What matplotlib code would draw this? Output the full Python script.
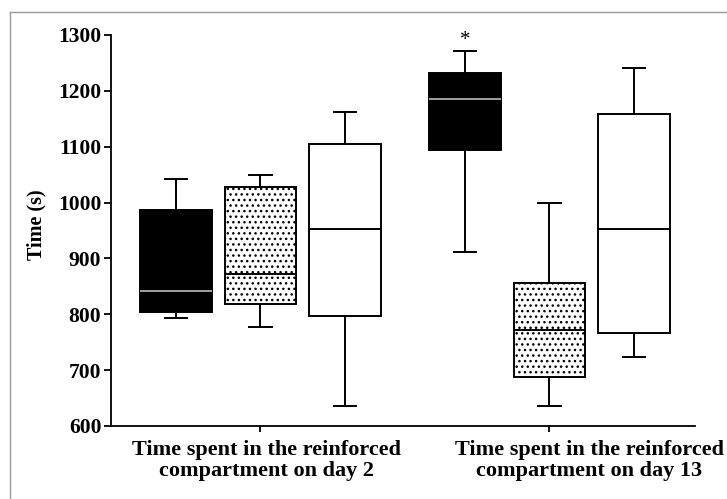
import matplotlib
matplotlib.use("Agg")
import matplotlib.pyplot as plt
from matplotlib.lines import Line2D
from matplotlib.transforms import ScaledTranslation

# ---- data ----
groups = ["Time spent in the reinforced\ncompartment on day 2",
          "Time spent in the reinforced\ncompartment on day 13"]
# box stats per series: [whisker low, q1, median, q3, whisker high]
day2_black  = [794, 804, 842, 986, 1042]
day2_dotted = [778, 818, 872, 1028, 1049]
day2_white  = [635, 797, 953, 1104, 1163]
day13_black  = [912, 1095, 1185, 1232, 1271]
day13_dotted = [635, 688, 772, 856, 999]
day13_white  = [723, 767, 953, 1158, 1241]
y_ticks = [600, 700, 800, 900, 1000, 1100, 1200, 1300]

plt.rcParams["font.family"] = ["Liberation Serif", "DejaVu Serif"]
plt.rcParams["hatch.linewidth"] = 1.0

fig = plt.figure(figsize=(7.27, 4.99), dpi=100)
ax = fig.add_axes([111/727, 1-426/499, (695-111)/727, (426-35)/499])

series = [day2_black, day2_dotted, day2_white, day13_black, day13_dotted, day13_white]
styles = ["black", "dotted", "white"] * 2
group_centers = [2.0, 5.42]
positions = [group_centers[0]-1, group_centers[0], group_centers[0]+1,
             group_centers[1]-1, group_centers[1], group_centers[1]+1]

stats = []
for s in series:
    lo, q1, med, q3, hi = s
    stats.append(dict(whislo=lo, q1=q1, med=med, q3=q3, whishi=hi, fliers=[]))

bp = ax.bxp(stats, positions=positions, widths=0.85, capwidths=0.27,
            patch_artist=True, showfliers=False, manage_ticks=False,
            boxprops=dict(linewidth=1.4, edgecolor="black"),
            whiskerprops=dict(linewidth=1.4, color="black"),
            capprops=dict(linewidth=1.4, color="black"),
            medianprops=dict(linewidth=1.4, color="black"))

for patch, med, st in zip(bp["boxes"], bp["medians"], styles):
    if st == "black":
        patch.set_facecolor("black")
        med.set_color("#bdbdbd")
        med.set_linewidth(1.2)
    elif st == "dotted":
        patch.set_facecolor("white")
        patch.set_hatch("...")
    else:
        patch.set_facecolor("white")

ax.set_xlim(0.231, 7.142)
ax.set_ylim(600, 1300)
ax.set_yticks(y_ticks)
ax.set_yticklabels([str(v) for v in y_ticks], fontsize=15.5, fontweight="bold")
ax.set_xticks(group_centers)
ax.set_xticklabels(groups, fontsize=16, fontweight="bold", linespacing=1.05)
ax.tick_params(axis="y", length=5, width=1.3, direction="out", pad=2)
ax.tick_params(axis="x", length=4, width=1.3, direction="out", pad=6)
for sp in ["top", "right"]:
    ax.spines[sp].set_visible(False)
for sp in ["left", "bottom"]:
    ax.spines[sp].set_linewidth(1.3)

# shift the x tick labels as in the reference
xl = ax.get_xticklabels()
xl[0].set_transform(xl[0].get_transform() + ScaledTranslation(6/100, 0, fig.dpi_scale_trans))
xl[1].set_transform(xl[1].get_transform() + ScaledTranslation(40/100, 0, fig.dpi_scale_trans))

ax.set_ylabel("Time (s)", fontsize=14.5, fontweight="bold")
ax.yaxis.set_label_coords(-0.111, 0.514)

ax.text(positions[3], 1290, "*", ha="center", va="center", fontsize=15, clip_on=False)

# gray frame around the figure
fig.add_artist(Line2D([10/727, 10/727], [0, 1-12/499], color="#9a9a9a", lw=1.0))
fig.add_artist(Line2D([10/727, 1], [1-12/499, 1-12/499], color="#9a9a9a", lw=1.0))

fig.savefig("out.png", dpi=100)
